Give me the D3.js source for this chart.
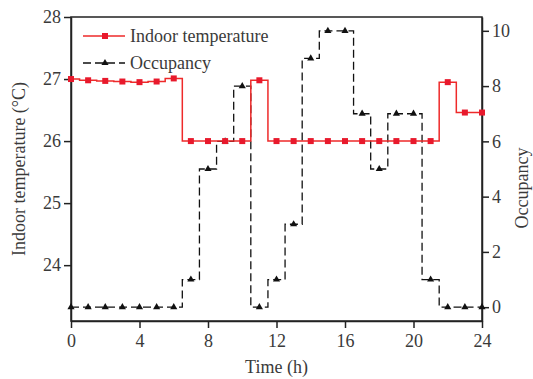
<!DOCTYPE html>
<html><head><meta charset="utf-8">
<script src="https://cdn.jsdelivr.net/npm/d3@7"></script>
<style>body{margin:0;background:#fff}svg{display:block}</style>
</head><body>
<script>
const hours = d3.range(0, 25);
const temperature = [27.00,26.98,26.97,26.96,26.95,26.96,27.01,26.00,26.00,26.00,26.00,26.98,26.00,26.00,26.00,26.00,26.00,26.00,26.00,26.00,26.00,26.00,26.95,26.46,26.46];
const occupancy = [0,0,0,0,0,0,0,1,5,6,8,0,1,3,9,10,10,7,5,7,7,1,0,0,0];
const xTicks = [0,4,8,12,16,20,24];
const tempTicks = [24,25,26,27,28];
const occTicks = [0,2,4,6,8,10];

const W=533,H=379, L=71, R=482, T=17, B=321;
const svg = d3.select("body").append("svg").attr("width",W).attr("height",H);
const font = "'Liberation Serif','Times New Roman',serif";
const txt = "#3a3a3a";

const x = d3.scaleLinear().domain([0,24]).range([L,R]);
const yT = d3.scaleLinear().domain([23.1,28]).range([B,T]);
const yO = d3.scaleLinear().domain([-0.5,10.5]).range([B,T]);

// frame
svg.append("rect").attr("x",L).attr("y",T).attr("width",R-L).attr("height",B-T)
  .attr("fill","none").attr("stroke","#222").attr("stroke-width",1.5);

function styleAxis(g){
  g.selectAll("path").attr("stroke","#222").attr("stroke-width",1.5);
  g.selectAll("line").attr("stroke","#222").attr("stroke-width",1.5);
  g.selectAll("text").attr("font-family",font).attr("font-size",18).attr("fill",txt);
}
const fmt = d3.format("d");
svg.append("g").attr("transform",`translate(0,${B})`)
  .call(d3.axisBottom(x).tickValues(xTicks).tickFormat(fmt).tickSize(7).tickPadding(6).tickSizeOuter(0))
  .call(styleAxis);
svg.append("g").attr("transform",`translate(${L},0)`)
  .call(d3.axisLeft(yT).tickValues(tempTicks).tickFormat(fmt).tickSize(7).tickPadding(3).tickSizeOuter(0))
  .call(styleAxis);
svg.append("g").attr("transform",`translate(${R},0)`)
  .call(d3.axisRight(yO).tickValues(occTicks).tickFormat(fmt).tickSize(7).tickPadding(3).tickSizeOuter(0))
  .call(styleAxis);

// occupancy
const occLine = d3.line().x((d,i)=>x(hours[i])).y(d=>yO(d)).curve(d3.curveStep);
svg.append("path").datum(occupancy).attr("d",occLine).attr("fill","none")
  .attr("stroke","#111").attr("stroke-width",1.3).attr("stroke-dasharray","8,4");
const tri = d3.symbol().type(d3.symbolTriangle).size(22);
svg.append("g").selectAll("path").data(occupancy).join("path")
  .attr("d",tri).attr("transform",(d,i)=>`translate(${x(hours[i])},${yO(d)})`).attr("fill","#111");

// temperature
const tLine = d3.line().x((d,i)=>x(hours[i])).y(d=>yT(d)).curve(d3.curveStep);
svg.append("path").datum(temperature).attr("d",tLine).attr("fill","none")
  .attr("stroke","#ee2a2a").attr("stroke-width",1.5);
svg.append("g").selectAll("rect").data(temperature).join("rect")
  .attr("x",(d,i)=>x(hours[i])-3).attr("y",d=>yT(d)-3).attr("width",6).attr("height",6)
  .attr("fill","#e8192c");

// legend
const lg = svg.append("g");
lg.append("line").attr("x1",83).attr("x2",125).attr("y1",36).attr("y2",36).attr("stroke","#ee2a2a").attr("stroke-width",1.5);
lg.append("rect").attr("x",102).attr("y",33).attr("width",6).attr("height",6).attr("fill","#e8192c");
lg.append("text").attr("x",130).attr("y",42).text("Indoor temperature").attr("font-family",font).attr("font-size",18).attr("fill",txt);
lg.append("line").attr("x1",83).attr("x2",125).attr("y1",63).attr("y2",63).attr("stroke","#111").attr("stroke-width",1.3).attr("stroke-dasharray","8,4");
lg.append("path").attr("d",tri).attr("transform","translate(105,63)").attr("fill","#111");
lg.append("text").attr("x",130).attr("y",69).text("Occupancy").attr("font-family",font).attr("font-size",18).attr("fill",txt);

// titles
svg.append("text").attr("x",(L+R)/2).attr("y",373).attr("text-anchor","middle").text("Time (h)")
  .attr("font-family",font).attr("font-size",18).attr("fill",txt);
svg.append("text").attr("transform",`translate(25,${(T+B)/2}) rotate(-90)`).attr("text-anchor","middle")
  .text("Indoor temperature (°C)").attr("font-family",font).attr("font-size",18).attr("fill",txt);
svg.append("text").attr("transform",`translate(528,${188}) rotate(-90)`).attr("text-anchor","middle")
  .text("Occupancy").attr("font-family",font).attr("font-size",18).attr("fill",txt);
</script>
</body></html>
